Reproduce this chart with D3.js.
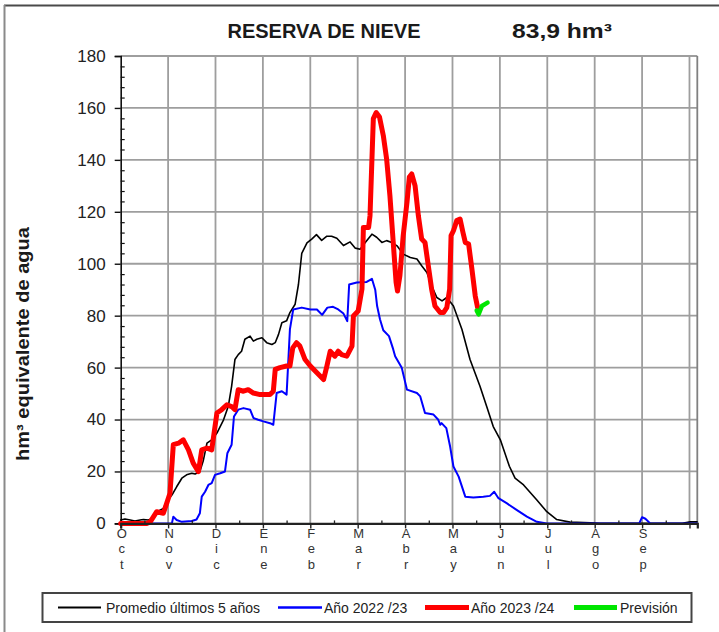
<!DOCTYPE html>
<html><head><meta charset="utf-8">
<script src="https://cdn.jsdelivr.net/npm/d3@7"></script>
<style>
body{margin:0;background:#fff}
svg{display:block;font-family:Arial,"Liberation Sans",sans-serif}
</style>
</head><body>
<svg id="c" width="719" height="632"></svg>
<script>
// ---------- data (x = months since 1 Oct, y = hm³) ----------
const months = ["Oct","Nov","Dic","Ene","Feb","Mar","Abr","May","Jun","Jul","Ago","Sep"];
const yTicks = [0,20,40,60,80,100,120,140,160,180];
const seriesNames = ["Promedio últimos 5 años","Año 2022 /23","Año 2023 /24","Previsión"];
const titleText = "RESERVA DE NIEVE";
const currentValue = "83,9 hm³";
const yTitle = "hm³ equivalente de agua";

const promedio = [[0,1.3],[0.09,1.7],[0.2,1.3],[0.3,0.9],[0.41,1.3],[0.48,1.5],[0.58,1.3],[0.65,1.7],[0.72,3.2],[0.83,5.1],[0.9,5.8],[0.97,8.4],[1.08,10.9],[1.18,14.1],[1.29,17.4],[1.39,18.7],[1.5,19.3],[1.57,19],[1.67,20],[1.74,24],[1.82,30.9],[1.92,32.2],[2.03,34.8],[2.17,39.9],[2.27,45.1],[2.34,52.8],[2.41,63.1],[2.48,65],[2.55,66.3],[2.62,70.9],[2.73,72.1],[2.8,70.2],[2.87,70.9],[2.98,71.5],[3.08,69.6],[3.19,68.9],[3.26,69.6],[3.33,72.8],[3.4,77.3],[3.5,78],[3.57,81.2],[3.68,84.4],[3.75,92],[3.82,104],[3.93,108],[4.03,109.5],[4.13,111.2],[4.24,109],[4.35,110.6],[4.45,110.6],[4.56,109.8],[4.7,107],[4.84,108.4],[4.95,106],[5.05,105.6],[5.16,108.2],[5.3,111.4],[5.4,110.2],[5.51,108.2],[5.61,108.9],[5.72,108.2],[5.83,106.9],[5.96,103.7],[6.11,102.4],[6.25,101.8],[6.35,99.2],[6.46,96.6],[6.56,91.5],[6.67,87],[6.78,85.7],[6.88,87],[7.02,83.7],[7.2,74.7],[7.37,63.1],[7.58,52.8],[7.72,45.1],[7.86,37.3],[8.01,32.2],[8.2,22],[8.32,17.4],[8.5,14.8],[8.78,9],[8.99,4.5],[9.2,1.5],[9.48,0.5],[9.91,0.2],[10.12,0],[11.85,0],[12.02,0.6],[12.16,0.6]];

const anio2223 = [[0,0],[1.08,0],[1.11,2.6],[1.18,1.3],[1.29,0.6],[1.5,0.9],[1.6,1.5],[1.67,3.9],[1.71,10.3],[1.78,12.2],[1.85,14.8],[1.92,15.5],[1.99,18.7],[2.1,19.3],[2.2,20],[2.25,27],[2.34,30.3],[2.39,41.2],[2.48,43.8],[2.59,44.4],[2.73,43.8],[2.8,40.6],[2.9,39.9],[3.01,39.3],[3.15,38.6],[3.22,38],[3.29,50.2],[3.4,50.9],[3.5,49.6],[3.57,74.7],[3.64,82.4],[3.82,83.1],[4.0,82.4],[4.14,82.4],[4.25,80.3],[4.36,83.1],[4.48,83.4],[4.59,82.4],[4.7,80.8],[4.78,77.9],[4.82,92],[4.98,92.8],[5.19,93],[5.3,94.2],[5.37,90],[5.41,83.7],[5.47,78.6],[5.54,74.4],[5.66,72.1],[5.75,67],[5.79,64.4],[5.93,59.9],[6.04,51.5],[6.25,50.2],[6.32,48.9],[6.42,42.5],[6.6,41.9],[6.7,39.9],[6.74,38],[6.77,38.6],[6.87,36.7],[6.95,29.6],[7.02,21.9],[7.13,18],[7.27,10.3],[7.44,10],[7.65,10.3],[7.79,10.6],[7.88,12.2],[7.97,9.7],[8.15,7.7],[8.36,5.1],[8.57,2.6],[8.78,0.6],[8.99,0],[10.94,0],[11.0,2.4],[11.07,1.8],[11.17,0],[12.16,0]];

const anio2324 = [[0,0],[0.55,0],[0.62,0.5],[0.76,4.5],[0.9,3.9],[0.97,7.7],[1.04,11.6],[1.11,30.3],[1.22,30.9],[1.32,32.2],[1.43,28.3],[1.53,23.2],[1.64,19.9],[1.71,28.3],[1.82,29],[1.92,28.3],[2.03,42.5],[2.13,43.8],[2.24,45.7],[2.34,45],[2.41,43.8],[2.48,51.5],[2.59,50.9],[2.69,51.5],[2.8,50.2],[2.94,49.6],[3.15,49.6],[3.22,50.9],[3.26,59.3],[3.36,60],[3.5,60.6],[3.57,60.6],[3.63,67.6],[3.71,69.6],[3.78,68.3],[3.89,63.1],[4.0,60.6],[4.14,58],[4.28,55.4],[4.35,60.6],[4.42,66.3],[4.52,64.4],[4.59,66.3],[4.66,65],[4.77,64.4],[4.88,68.3],[4.91,79.9],[5.01,81.8],[5.09,90.2],[5.12,114],[5.23,114],[5.26,118.5],[5.33,155.9],[5.39,158.2],[5.46,156.5],[5.54,149.4],[5.61,140.4],[5.68,126.2],[5.75,108.2],[5.81,92.8],[5.84,89.5],[5.89,95.3],[5.96,110.8],[6.04,123.7],[6.09,133.4],[6.14,134.6],[6.21,130.1],[6.28,118.5],[6.35,109.5],[6.42,108.2],[6.49,99.2],[6.56,90.2],[6.63,83.7],[6.74,81.2],[6.81,81.2],[6.88,83.1],[6.94,90.2],[6.97,110.8],[7.02,112.7],[7.09,116.6],[7.16,117.2],[7.22,112.1],[7.27,108.2],[7.34,107.6],[7.41,97.9],[7.48,87.6],[7.53,83.1]];

const prevision = [[7.51,82],[7.55,80.5],[7.62,83.7],[7.74,85]];

// ---------- layout ----------
const svg = d3.select("#c");
const L = 120.7, R = 697.3, T = 56, B = 523.4;
const x = d3.scaleLinear().domain([0, 12.165]).range([L, R]);
const y = d3.scaleLinear().domain([0, 180]).range([B, T]);

// outer frame (top + left visible)
svg.append("line").attr("x1",4).attr("x2",719).attr("y1",5.5).attr("y2",5.5).attr("stroke","#4a4a4a").attr("stroke-width",2);
svg.append("line").attr("x1",4.5).attr("x2",4.5).attr("y1",5).attr("y2",632).attr("stroke","#8a8a8a").attr("stroke-width",2);

// titles
svg.append("text").attr("x",227.5).attr("y",38).attr("font-size",20).attr("font-weight","bold").attr("fill","#1a1a1a")
  .attr("textLength",193).attr("lengthAdjust","spacingAndGlyphs").text(titleText);
svg.append("text").attr("x",512).attr("y",38).attr("font-size",21).attr("font-weight","bold").attr("fill","#1a1a1a")
  .attr("textLength",100).attr("lengthAdjust","spacingAndGlyphs").text(currentValue);
svg.append("text").attr("transform","translate(29,344) rotate(-90)").attr("text-anchor","middle")
  .attr("font-size",18).attr("font-weight","bold").attr("fill","#1a1a1a")
  .attr("textLength",234).attr("lengthAdjust","spacingAndGlyphs").text(yTitle);

// gridlines
const grid = svg.append("g").attr("stroke","#9e9e9e").attr("stroke-width",1.8);
grid.selectAll(".hg").data(yTicks.filter(d=>d>0)).join("line")
  .attr("x1",L).attr("x2",R).attr("y1",d=>y(d)).attr("y2",d=>y(d));
grid.selectAll(".vg").data(d3.range(1,13)).join("line")
  .attr("x1",d=>x(d)).attr("x2",d=>x(d)).attr("y1",T).attr("y2",B);
grid.append("line").attr("x1",R).attr("x2",R).attr("y1",T).attr("y2",B).attr("stroke","#808080");

// y axis
const yAxis = svg.append("g").attr("transform",`translate(${L},0)`)
  .call(d3.axisLeft(y).tickValues(yTicks).tickSize(6).tickPadding(9).tickFormat(d3.format("d")));
yAxis.select(".domain").attr("stroke","#111").attr("stroke-width",1.6);
yAxis.selectAll(".tick line").attr("stroke","#111").attr("stroke-width",1.4);
yAxis.selectAll(".tick text").attr("font-size",17).attr("fill","#222").attr("font-family","Arial, 'Liberation Sans', sans-serif");
const yMinor = svg.append("g").attr("transform",`translate(${L},0)`)
  .call(d3.axisRight(y).tickValues(d3.range(0,181,4).filter(v=>v%20!==0)).tickSize(4).tickFormat(""));
yMinor.select(".domain").remove();
yMinor.selectAll(".tick line").attr("stroke","#111").attr("stroke-width",1.2);

// series lines
const line = d3.line().x(d=>x(d[0])).y(d=>y(d[1]));
const styles = [
  {data:promedio, color:"#000000", w:1.6},
  {data:anio2223, color:"#0000ff", w:2},
  {data:anio2324, color:"#ff0000", w:5},
  {data:prevision, color:"#00e600", w:4.5}
];
svg.append("g").selectAll("path").data(styles).join("path")
  .attr("d",d=>line(d.data)).attr("fill","none")
  .attr("stroke",d=>d.color).attr("stroke-width",d=>d.w)
  .attr("stroke-linejoin","round").attr("stroke-linecap","round");

// x axis
const xAxis = svg.append("g").attr("transform",`translate(0,${B})`)
  .call(d3.axisBottom(x).tickValues(d3.range(0,13)).tickSize(5).tickFormat(""));
xAxis.select(".domain").attr("stroke","#222").attr("stroke-width",2.2);
xAxis.selectAll(".tick line").attr("stroke","#222").attr("stroke-width",1.4);
const xMinor = svg.append("g").attr("transform",`translate(0,${B})`)
  .call(d3.axisTop(x).tickValues(d3.range(0,12).map(v=>v+0.5)).tickSize(3).tickFormat(""));
xMinor.select(".domain").remove();
xMinor.selectAll(".tick line").attr("stroke","#222").attr("stroke-width",1.3);

// month labels, letters stacked vertically
const ml = svg.append("g").attr("font-size",13).attr("fill","#333").attr("text-anchor","middle");
months.forEach((m,i)=>{
  const t = ml.append("text").attr("x",x(i)+1);
  m.split("").forEach((ch,j)=>{
    t.append("tspan").attr("x",x(i)+1).attr("y",537.5+j*15.5).text(ch);
  });
});

// legend
const lg = svg.append("g");
lg.append("rect").attr("x",42.5).attr("y",593).attr("width",649).attr("height",29)
  .attr("fill","#fff").attr("stroke","#444").attr("stroke-width",2);
const legendItems = [
  {x1:58, x2:101, tx:106, color:"#000", w:2},
  {x1:278, x2:322, tx:324, color:"#0000ff", w:2.5},
  {x1:425, x2:469, tx:471, color:"#ff0000", w:5},
  {x1:574, x2:617, tx:620, color:"#00e600", w:5}
];
legendItems.forEach((it,i)=>{
  lg.append("line").attr("x1",it.x1).attr("x2",it.x2).attr("y1",607.5).attr("y2",607.5)
    .attr("stroke",it.color).attr("stroke-width",it.w);
  lg.append("text").attr("x",it.tx).attr("y",612.5).attr("font-size",14).attr("fill","#222").text(seriesNames[i]);
});
</script>
</body></html>
